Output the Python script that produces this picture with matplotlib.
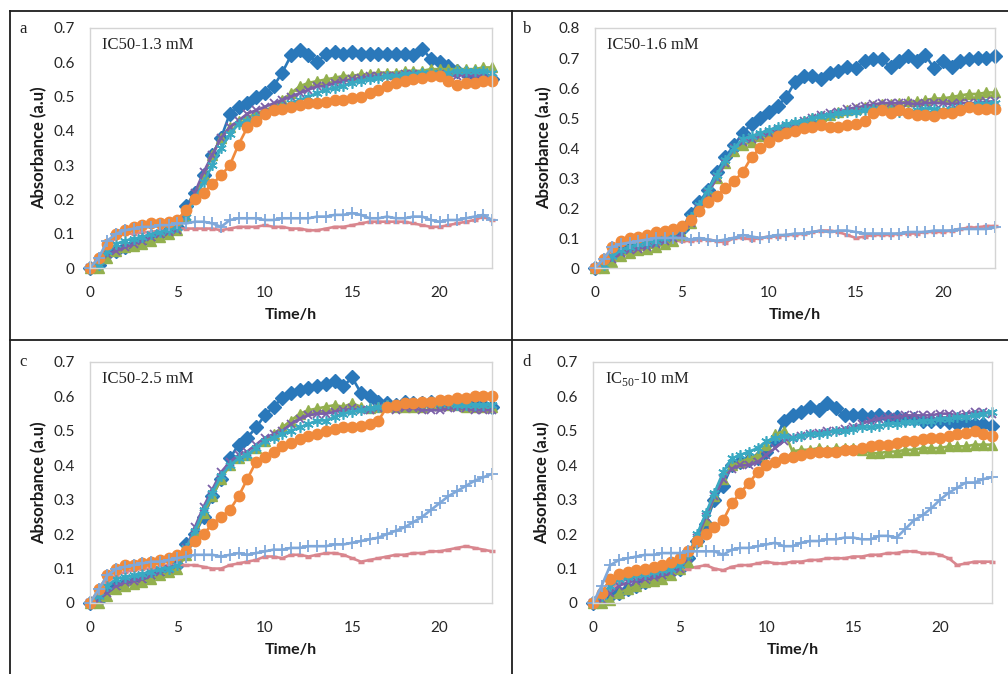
import matplotlib
matplotlib.use('Agg')
import matplotlib.pyplot as plt
from matplotlib.lines import Line2D

# %% Data (absorbance vs time, 7 series per panel)
hours = [0, 0.5, 1, 1.5, 2, 2.5, 3, 3.5, 4, 4.5,
         5, 5.5, 6, 6.5, 7, 7.5, 8, 8.5, 9, 9.5,
         10, 10.5, 11, 11.5, 12, 12.5, 13, 13.5, 14, 14.5,
         15, 15.5, 16, 16.5, 17, 17.5, 18, 18.5, 19, 19.5,
         20, 20.5, 21, 21.5, 22, 22.5, 23]

# panel a  (IC50-1.3 mM)
a_blue = [0, 0.01, 0.04, 0.05, 0.06, 0.07, 0.08, 0.09, 0.10, 0.11,
          0.12, 0.18, 0.22, 0.27, 0.33, 0.38, 0.45, 0.47, 0.48, 0.50,
          0.51, 0.53, 0.57, 0.62, 0.635, 0.62, 0.60, 0.625, 0.63, 0.625,
          0.63, 0.625, 0.625, 0.625, 0.625, 0.625, 0.625, 0.62, 0.64, 0.61,
          0.60, 0.59, 0.575, 0.57, 0.56, 0.555, 0.55]
a_red = [0, 0.02, 0.06, 0.09, 0.10, 0.10, 0.105, 0.105, 0.11, 0.11,
         0.115, 0.115, 0.115, 0.115, 0.115, 0.11, 0.115, 0.12, 0.12, 0.12,
         0.125, 0.12, 0.12, 0.115, 0.115, 0.11, 0.11, 0.115, 0.12, 0.12,
         0.125, 0.13, 0.135, 0.135, 0.135, 0.135, 0.135, 0.13, 0.125, 0.12,
         0.12, 0.125, 0.13, 0.135, 0.14, 0.15, 0.14]
a_green = [0, 0, 0.03, 0.05, 0.06, 0.065, 0.07, 0.08, 0.09, 0.10,
           0.11, 0.15, 0.21, 0.27, 0.33, 0.38, 0.41, 0.43, 0.44, 0.45,
           0.46, 0.47, 0.49, 0.51, 0.53, 0.54, 0.545, 0.55, 0.555, 0.56,
           0.56, 0.565, 0.565, 0.57, 0.57, 0.57, 0.575, 0.575, 0.575, 0.58,
           0.58, 0.58, 0.58, 0.58, 0.58, 0.585, 0.585]
a_purple = [0, 0.01, 0.04, 0.05, 0.06, 0.07, 0.08, 0.09, 0.10, 0.105,
            0.11, 0.16, 0.22, 0.28, 0.33, 0.38, 0.41, 0.43, 0.45, 0.46,
            0.47, 0.48, 0.49, 0.50, 0.51, 0.52, 0.53, 0.53, 0.54, 0.545,
            0.55, 0.555, 0.56, 0.56, 0.56, 0.56, 0.565, 0.565, 0.56, 0.56,
            0.565, 0.56, 0.56, 0.565, 0.56, 0.56, 0.555]
a_cyan = [0, 0.01, 0.05, 0.07, 0.08, 0.085, 0.09, 0.10, 0.105, 0.11,
          0.12, 0.15, 0.20, 0.25, 0.30, 0.35, 0.39, 0.42, 0.43, 0.44,
          0.45, 0.46, 0.47, 0.48, 0.49, 0.50, 0.51, 0.52, 0.525, 0.53,
          0.54, 0.545, 0.55, 0.555, 0.56, 0.56, 0.565, 0.565, 0.57, 0.57,
          0.57, 0.57, 0.575, 0.575, 0.575, 0.575, 0.57]
a_orange = [0, 0.03, 0.07, 0.10, 0.11, 0.12, 0.125, 0.13, 0.13, 0.135,
            0.14, 0.17, 0.20, 0.22, 0.245, 0.27, 0.30, 0.36, 0.41, 0.43,
            0.45, 0.46, 0.465, 0.47, 0.475, 0.48, 0.48, 0.485, 0.49, 0.49,
            0.495, 0.50, 0.51, 0.52, 0.53, 0.54, 0.545, 0.55, 0.555, 0.56,
            0.56, 0.545, 0.535, 0.54, 0.54, 0.545, 0.545]
a_ltblue = [0, 0.03, 0.08, 0.10, 0.11, 0.115, 0.12, 0.12, 0.125, 0.125,
            0.13, 0.13, 0.135, 0.135, 0.13, 0.12, 0.14, 0.145, 0.145, 0.145,
            0.14, 0.14, 0.145, 0.145, 0.145, 0.145, 0.15, 0.15, 0.155, 0.155,
            0.16, 0.155, 0.145, 0.145, 0.15, 0.145, 0.145, 0.15, 0.15, 0.14,
            0.135, 0.14, 0.14, 0.145, 0.15, 0.155, 0.14]

# panel b  (IC50-1.6 mM)
b_blue = [0, 0.01, 0.04, 0.06, 0.07, 0.08, 0.085, 0.09, 0.10, 0.11,
          0.13, 0.18, 0.22, 0.26, 0.32, 0.37, 0.41, 0.45, 0.48, 0.50,
          0.52, 0.54, 0.57, 0.62, 0.64, 0.64, 0.63, 0.65, 0.655, 0.67,
          0.665, 0.69, 0.695, 0.695, 0.67, 0.69, 0.705, 0.69, 0.71, 0.665,
          0.69, 0.67, 0.69, 0.695, 0.70, 0.70, 0.705]
b_red = [0, 0.02, 0.05, 0.06, 0.07, 0.075, 0.08, 0.085, 0.085, 0.09,
         0.09, 0.09, 0.095, 0.095, 0.09, 0.085, 0.10, 0.10, 0.095, 0.10,
         0.105, 0.105, 0.11, 0.11, 0.115, 0.12, 0.125, 0.125, 0.12, 0.11,
         0.10, 0.105, 0.11, 0.11, 0.11, 0.115, 0.115, 0.115, 0.12, 0.12,
         0.12, 0.125, 0.13, 0.135, 0.135, 0.14, 0.14]
b_green = [0, 0, 0.02, 0.04, 0.05, 0.06, 0.065, 0.07, 0.08, 0.09,
           0.11, 0.15, 0.20, 0.25, 0.30, 0.35, 0.39, 0.41, 0.42, 0.44,
           0.45, 0.46, 0.47, 0.48, 0.49, 0.50, 0.505, 0.51, 0.52, 0.525,
           0.53, 0.535, 0.54, 0.545, 0.545, 0.55, 0.555, 0.555, 0.56, 0.565,
           0.565, 0.57, 0.575, 0.58, 0.58, 0.585, 0.585]
b_purple = [0, 0.01, 0.03, 0.05, 0.06, 0.065, 0.07, 0.08, 0.09, 0.10,
            0.11, 0.15, 0.20, 0.25, 0.30, 0.35, 0.40, 0.42, 0.43, 0.44,
            0.45, 0.46, 0.47, 0.48, 0.49, 0.50, 0.51, 0.515, 0.52, 0.53,
            0.535, 0.54, 0.545, 0.55, 0.55, 0.55, 0.55, 0.545, 0.55, 0.55,
            0.55, 0.545, 0.55, 0.55, 0.55, 0.555, 0.555]
b_cyan = [0, 0.01, 0.04, 0.06, 0.07, 0.08, 0.085, 0.09, 0.10, 0.11,
          0.13, 0.17, 0.21, 0.26, 0.31, 0.36, 0.40, 0.43, 0.44, 0.45,
          0.46, 0.47, 0.48, 0.485, 0.49, 0.50, 0.505, 0.51, 0.515, 0.52,
          0.52, 0.525, 0.53, 0.53, 0.525, 0.52, 0.52, 0.525, 0.53, 0.53,
          0.525, 0.53, 0.535, 0.54, 0.545, 0.545, 0.55]
b_orange = [0, 0.03, 0.07, 0.09, 0.10, 0.105, 0.11, 0.12, 0.125, 0.13,
            0.14, 0.16, 0.19, 0.22, 0.24, 0.265, 0.29, 0.32, 0.37, 0.40,
            0.42, 0.44, 0.45, 0.455, 0.465, 0.47, 0.475, 0.47, 0.47, 0.475,
            0.48, 0.49, 0.515, 0.525, 0.515, 0.525, 0.515, 0.51, 0.51, 0.505,
            0.515, 0.515, 0.525, 0.535, 0.53, 0.53, 0.53]
b_ltblue = [0, 0.03, 0.07, 0.08, 0.085, 0.09, 0.095, 0.10, 0.10, 0.10,
            0.10, 0.095, 0.10, 0.095, 0.09, 0.095, 0.10, 0.11, 0.105, 0.10,
            0.105, 0.11, 0.11, 0.115, 0.115, 0.12, 0.125, 0.12, 0.125, 0.125,
            0.12, 0.115, 0.115, 0.115, 0.115, 0.115, 0.12, 0.12, 0.12, 0.125,
            0.125, 0.125, 0.13, 0.13, 0.13, 0.13, 0.135]

# panel c  (IC50-2.5 mM)
c_blue = [0, 0.01, 0.04, 0.05, 0.06, 0.065, 0.07, 0.08, 0.09, 0.10,
          0.11, 0.17, 0.20, 0.25, 0.31, 0.36, 0.42, 0.46, 0.48, 0.51,
          0.545, 0.57, 0.595, 0.61, 0.62, 0.625, 0.63, 0.635, 0.645, 0.63,
          0.655, 0.61, 0.60, 0.585, 0.58, 0.575, 0.585, 0.58, 0.58, 0.585,
          0.58, 0.58, 0.58, 0.58, 0.575, 0.575, 0.57]
c_red = [0, 0.02, 0.06, 0.08, 0.09, 0.095, 0.10, 0.10, 0.105, 0.11,
         0.11, 0.11, 0.11, 0.105, 0.10, 0.10, 0.11, 0.115, 0.12, 0.125,
         0.135, 0.135, 0.13, 0.14, 0.14, 0.135, 0.14, 0.145, 0.145, 0.14,
         0.13, 0.12, 0.125, 0.13, 0.135, 0.14, 0.14, 0.145, 0.145, 0.15,
         0.15, 0.155, 0.16, 0.165, 0.16, 0.155, 0.15]
c_green = [0, 0, 0.02, 0.04, 0.05, 0.055, 0.06, 0.07, 0.08, 0.09,
           0.10, 0.14, 0.20, 0.26, 0.31, 0.36, 0.40, 0.42, 0.43, 0.45,
           0.47, 0.49, 0.51, 0.53, 0.55, 0.56, 0.565, 0.57, 0.575, 0.57,
           0.58, 0.57, 0.565, 0.57, 0.575, 0.57, 0.57, 0.57, 0.57, 0.575,
           0.575, 0.575, 0.575, 0.57, 0.57, 0.57, 0.57]
c_purple = [0, 0.01, 0.03, 0.05, 0.06, 0.065, 0.07, 0.08, 0.09, 0.10,
            0.11, 0.16, 0.22, 0.28, 0.33, 0.38, 0.41, 0.43, 0.44, 0.46,
            0.48, 0.49, 0.50, 0.52, 0.535, 0.545, 0.55, 0.55, 0.555, 0.56,
            0.565, 0.56, 0.56, 0.565, 0.565, 0.56, 0.565, 0.565, 0.56, 0.56,
            0.56, 0.565, 0.565, 0.565, 0.56, 0.56, 0.56]
c_cyan = [0, 0.02, 0.05, 0.07, 0.075, 0.08, 0.085, 0.09, 0.10, 0.10,
          0.11, 0.16, 0.21, 0.27, 0.32, 0.37, 0.40, 0.42, 0.43, 0.45,
          0.47, 0.48, 0.49, 0.50, 0.51, 0.52, 0.53, 0.53, 0.54, 0.55,
          0.555, 0.56, 0.565, 0.57, 0.575, 0.575, 0.58, 0.58, 0.58, 0.58,
          0.58, 0.58, 0.575, 0.575, 0.575, 0.575, 0.575]
c_orange = [0, 0.04, 0.08, 0.10, 0.11, 0.11, 0.115, 0.12, 0.125, 0.13,
            0.14, 0.15, 0.18, 0.20, 0.23, 0.25, 0.27, 0.31, 0.36, 0.41,
            0.425, 0.44, 0.455, 0.465, 0.475, 0.485, 0.49, 0.50, 0.505, 0.51,
            0.51, 0.515, 0.52, 0.53, 0.57, 0.575, 0.58, 0.58, 0.585, 0.585,
            0.59, 0.59, 0.595, 0.595, 0.60, 0.60, 0.60]
c_ltblue = [0, 0.04, 0.08, 0.10, 0.105, 0.11, 0.115, 0.12, 0.12, 0.125,
            0.13, 0.135, 0.14, 0.14, 0.14, 0.135, 0.14, 0.145, 0.14, 0.145,
            0.15, 0.155, 0.155, 0.16, 0.16, 0.165, 0.165, 0.165, 0.17, 0.17,
            0.175, 0.18, 0.185, 0.19, 0.20, 0.21, 0.22, 0.235, 0.25, 0.27,
            0.29, 0.31, 0.325, 0.34, 0.355, 0.365, 0.375]

# panel d  (IC50-10 mM)
d_blue = [0, 0.01, 0.02, 0.03, 0.04, 0.05, 0.06, 0.07, 0.08, 0.09,
          0.10, 0.13, 0.18, 0.23, 0.30, 0.34, 0.40, 0.41, 0.415, 0.42,
          0.44, 0.47, 0.53, 0.545, 0.555, 0.57, 0.56, 0.58, 0.565, 0.545,
          0.545, 0.545, 0.54, 0.545, 0.54, 0.54, 0.535, 0.535, 0.53, 0.53,
          0.53, 0.525, 0.52, 0.525, 0.52, 0.52, 0.515]
d_red = [0, 0.01, 0.04, 0.06, 0.07, 0.075, 0.08, 0.085, 0.09, 0.09,
         0.095, 0.10, 0.105, 0.11, 0.10, 0.095, 0.105, 0.11, 0.11, 0.115,
         0.12, 0.115, 0.115, 0.12, 0.12, 0.125, 0.125, 0.13, 0.13, 0.13,
         0.135, 0.135, 0.14, 0.14, 0.145, 0.145, 0.15, 0.15, 0.145, 0.145,
         0.14, 0.13, 0.11, 0.115, 0.12, 0.12, 0.12]
d_green = [0, 0, 0.01, 0.03, 0.04, 0.05, 0.06, 0.065, 0.07, 0.08,
           0.10, 0.12, 0.18, 0.24, 0.31, 0.36, 0.40, 0.41, 0.42, 0.43,
           0.46, 0.49, 0.50, 0.44, 0.445, 0.445, 0.45, 0.445, 0.45, 0.45,
           0.45, 0.445, 0.435, 0.435, 0.44, 0.44, 0.445, 0.445, 0.45, 0.45,
           0.45, 0.455, 0.455, 0.455, 0.46, 0.46, 0.46]
d_purple = [0, 0.01, 0.03, 0.05, 0.06, 0.065, 0.07, 0.075, 0.08, 0.09,
            0.10, 0.13, 0.19, 0.25, 0.31, 0.36, 0.39, 0.40, 0.40, 0.41,
            0.43, 0.45, 0.47, 0.48, 0.485, 0.49, 0.495, 0.50, 0.50, 0.505,
            0.51, 0.52, 0.53, 0.535, 0.54, 0.54, 0.545, 0.545, 0.545, 0.545,
            0.55, 0.55, 0.545, 0.55, 0.555, 0.555, 0.55]
d_cyan = [0, 0.02, 0.05, 0.07, 0.075, 0.08, 0.085, 0.09, 0.095, 0.10,
          0.11, 0.14, 0.20, 0.26, 0.32, 0.38, 0.42, 0.43, 0.44, 0.45,
          0.47, 0.48, 0.485, 0.48, 0.485, 0.49, 0.49, 0.495, 0.50, 0.50,
          0.505, 0.51, 0.51, 0.515, 0.52, 0.52, 0.525, 0.525, 0.53, 0.53,
          0.535, 0.535, 0.54, 0.54, 0.545, 0.55, 0.555]
d_orange = [0, 0.03, 0.07, 0.085, 0.09, 0.095, 0.10, 0.105, 0.11, 0.12,
            0.13, 0.15, 0.18, 0.20, 0.22, 0.24, 0.29, 0.32, 0.35, 0.38,
            0.40, 0.41, 0.42, 0.425, 0.43, 0.435, 0.44, 0.44, 0.44, 0.445,
            0.445, 0.45, 0.455, 0.46, 0.46, 0.465, 0.47, 0.47, 0.475, 0.48,
            0.48, 0.485, 0.49, 0.495, 0.50, 0.49, 0.485]
d_ltblue = [0, 0.05, 0.11, 0.125, 0.13, 0.135, 0.14, 0.14, 0.145, 0.145,
            0.145, 0.15, 0.15, 0.15, 0.15, 0.14, 0.155, 0.16, 0.16, 0.165,
            0.17, 0.175, 0.165, 0.165, 0.175, 0.18, 0.18, 0.185, 0.185, 0.19,
            0.19, 0.185, 0.185, 0.195, 0.195, 0.19, 0.215, 0.24, 0.255, 0.275,
            0.30, 0.32, 0.335, 0.35, 0.35, 0.36, 0.365]

panel_letters = ['a', 'b', 'c', 'd']
panel_titles = ['IC50-1.3 mM', 'IC50-1.6 mM', 'IC50-2.5 mM',
                r'IC$_{\mathregular{50}}$-10 mM']
panel_ymax = [0.7, 0.8, 0.7, 0.7]
x_ticks = [0, 5, 10, 15, 20]

# %% Styles
W, H = 1008, 674
plt.rcParams['font.family'] = ['Lato', 'DejaVu Sans']
plt.rcParams['mathtext.fontset'] = 'custom'
plt.rcParams['mathtext.rm'] = 'Liberation Serif'

series_style = [
    dict(color='#2a78ba', marker='D', ms=7),
    dict(color='#d9868e', marker='_', ms=4, mew=2.5),
    dict(color='#93b04e', marker='^', ms=7.5),
    dict(color='#7b60a8', marker='x', ms=5.5, mew=1.3),
    dict(color='#3aa9c2', marker=(6, 2, 0), ms=7.5, mew=1.2),
    dict(color='#f08a3c', marker='o', ms=7.5),
    dict(color='#7fa8da', marker='+', ms=8.5, mew=1.3),
]

# axes rectangles in pixels: left, top, right, bottom
axes_px = [(90, 28, 492, 268), (595, 28, 995, 268),
           (90, 362, 492, 603), (593, 362, 992, 603)]
letter_px = [(23, 29), (527, 29), (23, 362), (527, 362)]


def px_rect(l, t, r, b):
    return [l / W, 1 - b / H, (r - l) / W, (b - t) / H]


panels = [
    [a_blue, a_red, a_green, a_purple, a_cyan, a_orange, a_ltblue],
    [b_blue, b_red, b_green, b_purple, b_cyan, b_orange, b_ltblue],
    [c_blue, c_red, c_green, c_purple, c_cyan, c_orange, c_ltblue],
    [d_blue, d_red, d_green, d_purple, d_cyan, d_orange, d_ltblue],
]

fig = plt.figure(figsize=(W / 100, H / 100), dpi=100)

for i, series in enumerate(panels):
    ax = fig.add_axes(px_rect(*axes_px[i]))
    for vals, st in zip(series, series_style):
        ax.plot(hours, vals, lw=1.9, clip_on=False, **st)
    ax.set_xlim(0, 23)
    ax.set_ylim(0, panel_ymax[i])
    yt = [k / 10 for k in range(int(round(panel_ymax[i] * 10)) + 1)]
    ax.set_yticks(yt)
    ax.set_yticklabels(['0'] + ['%.1f' % v for v in yt[1:]])
    ax.set_xticks(x_ticks)
    ax.tick_params(axis='y', length=0, pad=11, labelsize=11, labelcolor='#262626')
    ax.tick_params(axis='x', length=0, pad=13, labelsize=11, labelcolor='#262626')
    for sp in ax.spines.values():
        sp.set_color('#d4d4d4')
        sp.set_linewidth(1)
    ax.set_xlabel('Time/h', fontsize=11.5, fontweight='bold', labelpad=6, color='#1a1a1a')
    ax.set_ylabel('Absorbance (a.u)', fontsize=12, fontweight='bold', labelpad=4, color='#1a1a1a')
    ax.text(0.03, 0.93, panel_titles[i], transform=ax.transAxes, va='center', ha='left',
            family='Liberation Serif', fontsize=12, color='#222222')
    lx, ly = letter_px[i]
    fig.text(lx / W, 1 - ly / H, panel_letters[i], ha='center', va='center',
             family='Liberation Serif', fontsize=12, color='#222222')

# panel frame lines
frame_lines = [
    ([10, W], [11, 11]),
    ([10, W], [340, 340]),
    ([10, 10], [11, H]),
    ([512, 512], [11, H]),
]
for xs, ys in frame_lines:
    fig.add_artist(Line2D([x / W for x in xs], [1 - y / H for y in ys],
                          transform=fig.transFigure, color='#1e1e1e', lw=1.3))

fig.savefig('out.png', dpi=100)
